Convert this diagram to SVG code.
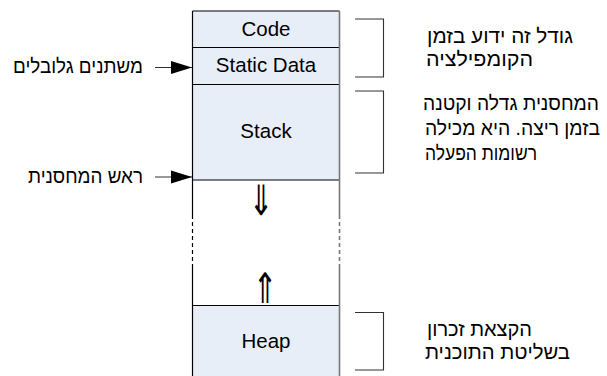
<svg xmlns="http://www.w3.org/2000/svg" width="607" height="376" viewBox="0 0 607 376">
  <style>
    .seg { fill: #e8eef8; stroke: none; }
    .edge { stroke: #000; stroke-width: 1.2; fill: none; }
    .edgeR { stroke: #777; stroke-width: 1.6; fill: none; }
    .lbl { font-family: "Liberation Sans", Arial, sans-serif; font-size: 20.5px; fill: #000; text-anchor: middle; }
    .heb { font-family: "Liberation Sans", Arial, "DejaVu Sans", sans-serif; font-size: 20px; fill: #000; }
    .brace { stroke: #333; stroke-width: 1.1; fill: none; }
    .ptr { stroke: #333; stroke-width: 1.2; fill: none; }
    .sym { font-family: "DejaVu Sans", sans-serif; font-size: 28px; fill: #000; text-anchor: middle; }
  </style>
  <defs>
    <marker id="head" markerUnits="userSpaceOnUse" markerWidth="22" markerHeight="14" refX="21" refY="7" orient="auto">
      <path d="M0,0.5 L21,7 L0,13.5 Z" fill="#000"/>
    </marker>
  </defs>

  <!-- memory column -->
  <g id="code">
    <rect class="seg" x="192.5" y="11" width="147" height="36.5"/>
    <text class="lbl" x="266" y="35.5">Code</text>
  </g>
  <g id="static-data">
    <rect class="seg" x="192.5" y="47.5" width="147" height="37"/>
    <text class="lbl" x="266" y="71.5">Static Data</text>
  </g>
  <g id="stack">
    <rect class="seg" x="192.5" y="84.5" width="147" height="95.5"/>
    <text class="lbl" x="266" y="137.5">Stack</text>
  </g>
  <g id="free-space">
    <text class="sym" transform="translate(261,215) scale(1.05,1.5)" x="0" y="0">⇓</text>
    <text class="sym" transform="translate(265,303) scale(1.05,1.5)" x="0" y="0">⇑</text>
  </g>
  <g id="heap">
    <rect class="seg" x="192.5" y="305.5" width="147" height="72"/>
    <text class="lbl" x="266" y="347.5">Heap</text>
  </g>

  <!-- column outline -->
  <g id="outline">
    <line class="edge" x1="192.5" y1="11" x2="339.5" y2="11"/>
    <line class="edge" x1="192.5" y1="47.5" x2="339.5" y2="47.5"/>
    <line class="edge" x1="192.5" y1="84.5" x2="339.5" y2="84.5"/>
    <line class="edge" x1="192.5" y1="180" x2="339.5" y2="180"/>
    <line class="edge" x1="192.5" y1="305.5" x2="339.5" y2="305.5"/>
    <line class="edge" x1="192.5" y1="11" x2="192.5" y2="215"/>
    <line class="edge" x1="192.5" y1="215" x2="192.5" y2="267" stroke-dasharray="4,3"/>
    <line class="edge" x1="192.5" y1="267" x2="192.5" y2="376"/>
    <line class="edgeR" x1="339.5" y1="11" x2="339.5" y2="215"/>
    <line class="edgeR" x1="339.5" y1="215" x2="339.5" y2="267" stroke-dasharray="4,3"/>
    <line class="edgeR" x1="339.5" y1="267" x2="339.5" y2="376"/>
  </g>

  <!-- pointers and brackets -->
  <g id="connectors">
    <line class="ptr" x1="155" y1="67.5" x2="192" y2="67.5" marker-end="url(#head)"/>
    <line class="ptr" x1="155" y1="177" x2="192" y2="177" marker-end="url(#head)"/>
    <path class="brace" d="M355,19 H383.5 V77 H355"/>
    <path class="brace" d="M355,91 H383.5 V173 H355"/>
    <path class="brace" d="M355,312.5 H383.5 V370 H355"/>
  </g>

  <!-- side notes -->
  <g id="note-globals">
    <text class="heb" x="13" y="73" textLength="130" lengthAdjust="spacingAndGlyphs">משתנים גלובלים</text>
  </g>
  <g id="note-stack-top">
    <text class="heb" x="28" y="183" textLength="115" lengthAdjust="spacingAndGlyphs">ראש המחסנית</text>
  </g>
  <g id="note-compile">
    <text class="heb" x="427" y="43" textLength="146" lengthAdjust="spacingAndGlyphs">גודל זה ידוע בזמן</text>
    <text class="heb" x="426" y="66" textLength="107" lengthAdjust="spacingAndGlyphs">הקומפילציה</text>
  </g>
  <g id="note-runtime">
    <text class="heb" x="423" y="110" font-size="18.5" textLength="176" lengthAdjust="spacingAndGlyphs">המחסנית גדלה וקטנה</text>
    <text class="heb" x="425" y="135" textLength="175" lengthAdjust="spacingAndGlyphs">בזמן ריצה. היא מכילה</text>
    <text class="heb" x="425" y="160" textLength="112" lengthAdjust="spacingAndGlyphs">רשומות הפעלה</text>
  </g>
  <g id="note-heap">
    <text class="heb" x="427" y="336" textLength="105" lengthAdjust="spacingAndGlyphs">הקצאת זכרון</text>
    <text class="heb" x="425" y="359" textLength="145" lengthAdjust="spacingAndGlyphs">בשליטת התוכנית</text>
  </g>
</svg>
